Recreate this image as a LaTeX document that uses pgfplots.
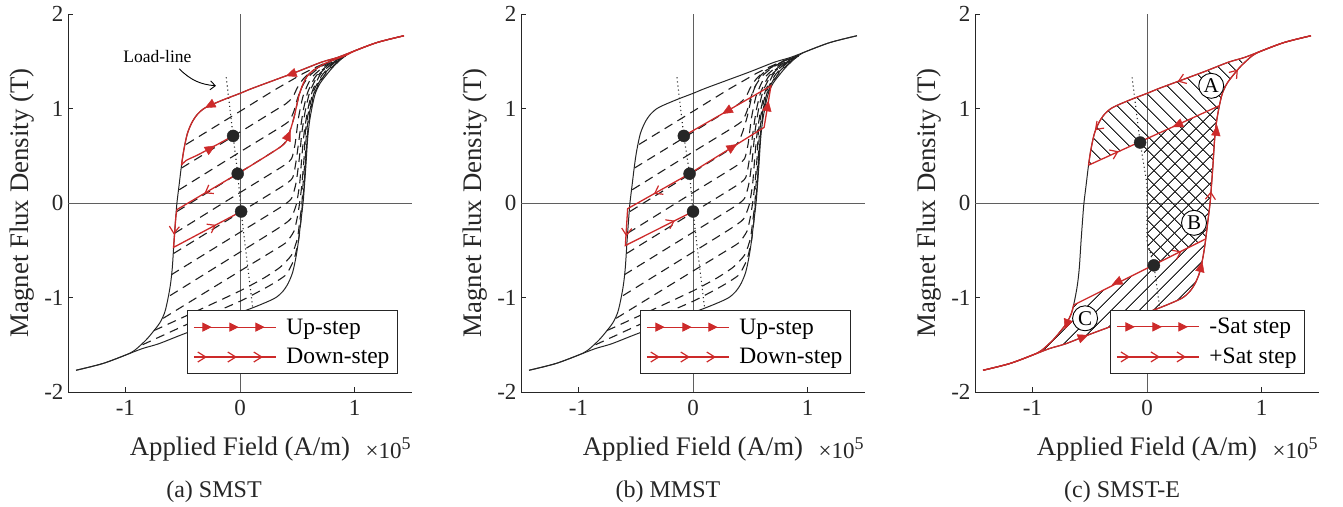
\documentclass[border=0pt]{standalone}
\usepackage{fontspec}
\setmainfont{Liberation Serif}
\usepackage{pgfplots}
\pgfplotsset{compat=1.18}
\usetikzlibrary{patterns.meta,arrows.meta}

\definecolor{cRed}{RGB}{205,42,42}
\definecolor{cDark}{RGB}{38,38,38}
\definecolor{cZero}{RGB}{95,95,95}

\pgfdeclareplotmark{tri}{%
  \pgfpathmoveto{\pgfqpoint{\pgfplotmarksize}{0pt}}%
  \pgfpathlineto{\pgfqpoint{-0.8\pgfplotmarksize}{0.8\pgfplotmarksize}}%
  \pgfpathlineto{\pgfqpoint{-0.8\pgfplotmarksize}{-0.8\pgfplotmarksize}}%
  \pgfpathclose
  \pgfusepathqfillstroke}
\pgfdeclareplotmark{chev}{%
  \pgfpathmoveto{\pgfqpoint{-0.8\pgfplotmarksize}{\pgfplotmarksize}}%
  \pgfpathlineto{\pgfqpoint{0.6\pgfplotmarksize}{0pt}}%
  \pgfpathlineto{\pgfqpoint{-0.8\pgfplotmarksize}{-\pgfplotmarksize}}%
  \pgfusepathqstroke}

\pgfplotsset{
  hyst/.style={
    width=344pt, height=378pt, scale only axis, clip=false,
    xmin=-1.5, xmax=1.5, ymin=-2, ymax=2,
    axis lines*=left, axis line style={-, cDark, line width=0.8pt},
    xtick={-1,0,1}, xticklabels={-1,0,1},
    ytick={-2,-1,0,1,2}, yticklabels={-2,-1,0,1,2},
    tick align=inside, major tick length=5pt,
    tick style={cDark, line width=0.8pt},
    ticklabel style={font=\fontsize{23}{27}\selectfont, text=cDark},
    xticklabel style={yshift=-5pt},
    yticklabel style={xshift=-1pt},
    xlabel={Applied Field (A/m)}, ylabel={Magnet Flux Density (T)},
    label style={font=\fontsize{26.8}{30}\selectfont, text=cDark},
    xlabel style={at={(axis description cs:0.5,-0.1667)}, anchor=base},
    ylabel style={at={(axis description cs:-0.134,0.5)}, anchor=center},
    legend style={at={(axis description cs:0.959,0.048)}, anchor=south east,
      draw=cDark, line width=0.8pt, fill=white,
      font=\fontsize{23.5}{27}\selectfont, text=black,
      inner xsep=6pt, inner ysep=6pt, row sep=9pt,
      /tikz/every odd column/.append style={column sep=8pt}},
    legend cell align=left,
  },
  major/.style={cDark, line width=1.0pt, smooth, tension=0.5, forget plot},
  forc/.style={black!88, line width=1.1pt, dash pattern=on 9pt off 6pt, smooth, tension=0.35, forget plot},
  redl/.style={cRed, line width=1.3pt, forget plot},
  redsm/.style={cRed, line width=1.3pt, smooth, tension=0.5, forget plot},
  loadl/.style={cDark, line width=1.1pt, dash pattern=on 1.1pt off 3pt, forget plot},
  dots/.style={only marks, mark=*, mark size=6pt, cDark, forget plot},
  zerol/.style={cZero, line width=0.9pt, forget plot},
}

\newcommand{\mkT}[3]{\addplot[forget plot, only marks, mark=tri, mark size=5.5pt, cRed, mark options={solid, fill=cRed, rotate=#1}] coordinates {(#2,#3)};}
\newcommand{\mkC}[3]{\addplot[forget plot, only marks, mark=chev, mark size=5pt, cRed, line width=1.2pt, mark options={solid, rotate=#1}] coordinates {(#2,#3)};}

\newcommand{\zerolines}{%
  \addplot[zerol] coordinates {(-1.5,0) (1.5,0)};
  \addplot[zerol] coordinates {(0,-2) (0,2)};
}

\newcommand{\majorloop}{%
  \addplot[major] coordinates {(1.43,1.77) (1.2,1.70) (1.0,1.61) (0.85,1.54) (0.71,1.49) (0.5,1.39) (0.3,1.30) (0.1,1.21) (0,1.16) (-0.15,1.09) (-0.3,1.01) (-0.37,0.94) (-0.42,0.85) (-0.46,0.73) (-0.49,0.56) (-0.51,0.40) (-0.53,0.2) (-0.55,0.0) (-0.56,-0.15) (-0.575,-0.4) (-0.59,-0.68) (-0.605,-0.85) (-0.62,-0.96) (-0.64,-1.08) (-0.66,-1.17) (-0.7,-1.27) (-0.75,-1.35) (-0.82,-1.45) (-0.92,-1.56) (-1.0,-1.61) (-1.2,-1.70) (-1.43,-1.77)};
  \addplot[major] coordinates {(-1.43,-1.77) (-1.2,-1.70) (-1.0,-1.61) (-0.85,-1.54) (-0.71,-1.49) (-0.5,-1.39) (-0.3,-1.30) (-0.1,-1.21) (0,-1.16) (0.15,-1.09) (0.3,-1.01) (0.37,-0.94) (0.42,-0.85) (0.46,-0.73) (0.49,-0.56) (0.51,-0.40) (0.53,-0.2) (0.55,0.0) (0.56,0.15) (0.575,0.4) (0.59,0.68) (0.605,0.85) (0.62,0.96) (0.64,1.08) (0.66,1.17) (0.7,1.27) (0.75,1.35) (0.82,1.45) (0.92,1.56) (1.0,1.61) (1.2,1.70) (1.43,1.77)};
}

\newcommand{\forcs}{%
  \addplot[forc] coordinates {(-0.47,0.62) (0.0,0.97) (0.3,1.195) (0.45,1.30) (0.55,1.37) (0.65,1.43) (0.78,1.50) (0.92,1.56)};
  \addplot[forc] coordinates {(-0.51,0.37) (0.0,0.75) (0.3,0.975) (0.4,1.05) (0.46,1.12) (0.5,1.22) (0.55,1.31) (0.62,1.39) (0.72,1.46) (0.82,1.52) (0.92,1.56)};
  \addplot[forc] coordinates {(-0.53,0.14) (0.0,0.54) (0.35,0.80) (0.43,0.87) (0.47,0.97) (0.5,1.1) (0.54,1.23) (0.6,1.34) (0.7,1.44) (0.8,1.5) (0.92,1.56)};
  \addplot[forc] coordinates {(-0.55,-0.09) (-0.02,0.31) (0.36,0.60) (0.42,0.71) (0.47,0.9) (0.52,1.16) (0.59,1.35) (0.73,1.47) (0.92,1.56)};
  \addplot[forc] coordinates {(-0.57,-0.32) (0.0,0.11) (0.38,0.395) (0.45,0.47) (0.48,0.62) (0.51,0.9) (0.55,1.13) (0.62,1.32) (0.74,1.45) (0.92,1.56)};
  \addplot[forc] coordinates {(-0.58,-0.535) (0.0,-0.10) (0.38,0.185) (0.46,0.27) (0.49,0.45) (0.52,0.72) (0.55,0.97) (0.59,1.17) (0.66,1.34) (0.77,1.46) (0.92,1.56)};
  \addplot[forc] coordinates {(-0.60,-0.76) (0.0,-0.31) (0.36,-0.04) (0.45,0.05) (0.49,0.22) (0.52,0.5) (0.54,0.75) (0.57,0.98) (0.61,1.18) (0.68,1.35) (0.79,1.47) (0.92,1.56)};
  \addplot[forc] coordinates {(-0.61,-0.98) (0.0,-0.52) (0.33,-0.27) (0.44,-0.17) (0.49,-0.02) (0.52,0.2) (0.54,0.5) (0.56,0.75) (0.59,0.98) (0.63,1.18) (0.7,1.36) (0.8,1.47) (0.92,1.56)};
  \addplot[forc] coordinates {(-0.67,-1.22) (0.0,-0.72) (0.25,-0.535) (0.4,-0.42) (0.47,-0.3) (0.5,-0.15) (0.52,0.0) (0.54,0.2) (0.56,0.5) (0.57,0.75) (0.6,0.98) (0.64,1.18) (0.72,1.36) (0.82,1.48) (0.92,1.56)};
  \addplot[forc] coordinates {(-0.75,-1.35) (-0.3,-1.1) (0.0,-0.93) (0.2,-0.8) (0.35,-0.68) (0.45,-0.55) (0.5,-0.38) (0.52,-0.2) (0.54,0.0) (0.55,0.2) (0.57,0.5) (0.58,0.75) (0.61,0.98) (0.65,1.18) (0.73,1.36) (0.83,1.48) (0.92,1.56)};
  \addplot[forc] coordinates {(-0.85,-1.5) (-0.4,-1.25) (0.0,-1.04) (0.25,-0.88) (0.4,-0.76) (0.47,-0.6) (0.51,-0.4) (0.53,-0.2) (0.545,0.0) (0.56,0.2) (0.575,0.5) (0.59,0.75) (0.615,0.98) (0.655,1.18) (0.74,1.36) (0.84,1.48) (0.92,1.56)};
}

\newcommand{\legUp}{\addlegendimage{legend image code/.code={%
  \draw[cRed,line width=1.2pt] (0pt,0pt) -- (82pt,0pt);
  \fill[cRed] (17pt,0pt) -- (9pt,4pt) -- (9pt,-4pt) -- cycle;
  \fill[cRed] (44pt,0pt) -- (36pt,4pt) -- (36pt,-4pt) -- cycle;
  \fill[cRed] (70pt,0pt) -- (62pt,4pt) -- (62pt,-4pt) -- cycle;}}}
\newcommand{\legDown}{\addlegendimage{legend image code/.code={%
  \draw[cRed,line width=1.2pt] (0pt,0pt) -- (82pt,0pt);
  \draw[cRed,line width=1.2pt] (4pt,5pt) -- (12pt,0pt) -- (4pt,-5pt);
  \draw[cRed,line width=1.2pt] (34pt,5pt) -- (42pt,0pt) -- (34pt,-5pt);
  \draw[cRed,line width=1.2pt] (60pt,5pt) -- (68pt,0pt) -- (60pt,-5pt);}}}

\newcommand{\timesten}{\node[anchor=base west, font=\fontsize{23}{27}\selectfont, text=cDark] at (axis description cs:0.855,-0.1746) {×10\raisebox{9pt}{\fontsize{18}{18}\selectfont 5}};}

\begin{document}
\begin{tikzpicture}
\useasboundingbox (0pt,0pt) rectangle (1343pt,506pt);

% ---------------- (a) SMST ----------------
\begin{axis}[hyst, at={(68pt,114pt)}]
  \zerolines
  \forcs
  \majorloop
  \addplot[loadl] coordinates {(-0.12,1.33) (-0.06,0.71) (-0.02,0.31) (0.01,-0.09) (0.05,-0.5) (0.11,-1.10)};
  % up-step
  \addplot[redsm] coordinates {(-0.02,0.31) (0.36,0.60) (0.42,0.71) (0.47,0.9) (0.52,1.16) (0.59,1.35) (0.73,1.47) (0.92,1.56) (1.0,1.61) (1.2,1.70) (1.43,1.77)};
  \addplot[redsm] coordinates {(1.43,1.77) (1.2,1.70) (1.0,1.61) (0.85,1.54) (0.71,1.49) (0.5,1.39) (0.3,1.30) (0.1,1.21) (0,1.16) (-0.15,1.09) (-0.3,1.01) (-0.37,0.94) (-0.42,0.85) (-0.46,0.73) (-0.49,0.56) (-0.51,0.40)};
  \addplot[redsm] coordinates {(-0.51,0.40) (-0.47,0.45) (-0.35,0.52) (-0.06,0.71)};
  % down-step
  \addplot[redl] coordinates {(-0.02,0.31) (-0.55,-0.07) (-0.56,-0.15) (-0.575,-0.40) (-0.58,-0.47) (0.01,-0.09)};
  \addplot[dots] coordinates {(-0.06,0.71) (-0.02,0.31) (0.01,-0.09)};
  \mkT{200}{0.45}{1.365}
  \mkT{208}{-0.26}{1.035}
  \mkT{31}{-0.26}{0.575}
  \mkT{66}{0.42}{0.71}
  \mkC{211}{-0.28}{0.124}
  \mkC{266}{-0.575}{-0.29}
  \mkC{28}{-0.24}{-0.251}
  \node[font=\fontsize{17.5}{20}\selectfont, text=black] at (axis cs:-0.72,1.55) {Load-line};
  \draw[black, line width=0.9pt, -{Straight Barb[length=5pt,width=9pt]}] (axis cs:-0.53,1.42) to[out=-45,in=175] (axis cs:-0.21,1.24);
  \legUp \addlegendentry{Up-step}
  \legDown \addlegendentry{Down-step}
  \timesten
\end{axis}

% ---------------- (b) MMST ----------------
\begin{axis}[hyst, at={(521pt,114pt)}]
  \zerolines
  \forcs
  \majorloop
  \addplot[loadl] coordinates {(-0.14,1.33) (-0.08,0.71) (-0.03,0.31) (0.0,-0.09) (0.04,-0.5) (0.10,-1.10)};
  \addplot[redl] coordinates {(-0.03,0.31) (0.62,0.80) (0.68,1.24) (-0.08,0.71)};
  \addplot[redl] coordinates {(-0.03,0.31) (-0.57,-0.06) (-0.59,-0.45) (0.0,-0.09)};
  \addplot[dots] coordinates {(-0.08,0.71) (-0.03,0.31) (0.0,-0.09)};
  \mkT{32}{0.34}{0.589}
  \mkT{81}{0.65}{1.02}
  \mkT{210}{0.30}{0.975}
  \mkC{209}{-0.31}{0.118}
  \mkC{267}{-0.58}{-0.31}
  \mkC{27}{-0.19}{-0.206}
  \legUp \addlegendentry{Up-step}
  \legDown \addlegendentry{Down-step}
  \timesten
\end{axis}

% ---------------- (c) SMST-E ----------------
\begin{axis}[hyst, at={(975pt,114pt)}]
  \zerolines
  \addplot[draw=none, pattern={Lines[angle=-45,distance=10.5pt,line width=1.2pt]}, pattern color=cDark, forget plot] coordinates {(-0.51,0.40) (-0.49,0.56) (-0.46,0.73) (-0.42,0.85) (-0.37,0.94) (-0.3,1.01) (-0.15,1.09) (0,1.16) (0.1,1.21) (0.3,1.30) (0.5,1.39) (0.71,1.49) (0.85,1.54) (0.82,1.45) (0.75,1.35) (0.7,1.27) (0.66,1.17) (0.632,1.03) (0.605,0.85) (0.59,0.68) (0.575,0.4) (0.56,0.15) (0.55,0.0) (0.53,-0.2) (0.512,-0.38) (0.06,-0.66) (0.0,-0.45) (0.0,0.45) (-0.06,0.64)} -- cycle;
  \addplot[draw=none, pattern={Lines[angle=45,distance=10.5pt,line width=1.2pt]}, pattern color=cDark, forget plot] coordinates {(-0.64,-1.08) (0.06,-0.66) (0.0,-0.45) (0.0,0.45) (-0.06,0.64) (0.632,1.03) (0.605,0.85) (0.59,0.68) (0.575,0.4) (0.56,0.15) (0.55,0.0) (0.53,-0.2) (0.512,-0.38) (0.49,-0.56) (0.46,-0.73) (0.42,-0.85) (0.37,-0.94) (0.3,-1.01) (0.15,-1.09) (0,-1.16) (-0.1,-1.21) (-0.3,-1.30) (-0.5,-1.39) (-0.71,-1.49) (-0.85,-1.54) (-0.92,-1.56) (-0.82,-1.45) (-0.75,-1.35) (-0.7,-1.27) (-0.66,-1.17)} -- cycle;
  \majorloop
  \addplot[loadl] coordinates {(-0.13,1.33) (-0.06,0.64) (0.0,0.2) (0.0,-0.4) (0.06,-0.66) (0.11,-1.10)};
  \addplot[redsm] coordinates {(-1.43,-1.77) (-1.2,-1.70) (-1.0,-1.61) (-0.85,-1.54) (-0.71,-1.49) (-0.5,-1.39) (-0.3,-1.30) (-0.1,-1.21) (0,-1.16) (0.15,-1.09) (0.3,-1.01) (0.37,-0.94) (0.42,-0.85) (0.46,-0.73) (0.49,-0.56) (0.51,-0.40) (0.53,-0.2) (0.55,0.0) (0.56,0.15) (0.575,0.4) (0.59,0.68) (0.605,0.85) (0.62,0.96) (0.64,1.08) (0.66,1.17) (0.7,1.27) (0.75,1.35) (0.82,1.45) (0.92,1.56) (1.0,1.61) (1.2,1.70) (1.43,1.77)};
  \addplot[redsm] coordinates {(1.43,1.77) (1.2,1.70) (1.0,1.61) (0.85,1.54) (0.71,1.49) (0.5,1.39) (0.3,1.30) (0.1,1.21) (0,1.16) (-0.15,1.09) (-0.3,1.01) (-0.37,0.94) (-0.42,0.85) (-0.46,0.73) (-0.49,0.56) (-0.51,0.40)};
  \addplot[redsm] coordinates {(-0.64,-1.08) (-0.66,-1.17) (-0.7,-1.27) (-0.75,-1.35) (-0.82,-1.45) (-0.92,-1.56) (-1.0,-1.61) (-1.2,-1.70) (-1.43,-1.77)};
  \addplot[redl] coordinates {(-0.51,0.40) (0.632,1.03)};
  \addplot[redl] coordinates {(-0.64,-1.08) (0.512,-0.38)};
  \addplot[dots] coordinates {(-0.06,0.64) (0.06,-0.66)};
  \mkC{200}{0.30}{1.30}
  \mkC{50}{0.77}{1.38}
  \mkC{225}{-0.43}{0.80}
  \mkC{24}{-0.28}{0.53}
  \mkT{204}{0.27}{0.829}
  \mkT{83}{0.605}{0.76}
  \mkC{87}{0.555}{0.08}
  \mkC{26}{0.27}{-0.53}
  \mkT{206}{-0.26}{-0.838}
  \mkT{76}{0.47}{-0.68}
  \mkT{250}{-0.70}{-1.28}
  \mkT{21}{-0.56}{-1.42}
  \node[circle, draw=black, fill=white, line width=0.9pt, inner sep=0pt, minimum size=25pt, font=\fontsize{21}{21}\selectfont] at (axis cs:0.56,1.24) {A};
  \node[circle, draw=black, fill=white, line width=0.9pt, inner sep=0pt, minimum size=25pt, font=\fontsize{21}{21}\selectfont] at (axis cs:0.41,-0.21) {B};
  \node[circle, draw=black, fill=white, line width=0.9pt, inner sep=0pt, minimum size=25pt, font=\fontsize{21}{21}\selectfont] at (axis cs:-0.54,-1.22) {C};
  \legUp \addlegendentry{-Sat step}
  \legDown \addlegendentry{+Sat step}
  \timesten
\end{axis}

\node[anchor=base, font=\fontsize{24}{28}\selectfont, text=cDark] at (214pt,9pt) {(a) SMST};
\node[anchor=base, font=\fontsize{24}{28}\selectfont, text=cDark] at (668pt,9pt) {(b) MMST};
\node[anchor=base, font=\fontsize{24}{28}\selectfont, text=cDark] at (1122pt,9pt) {(c) SMST-E};
\end{tikzpicture}
\end{document}
